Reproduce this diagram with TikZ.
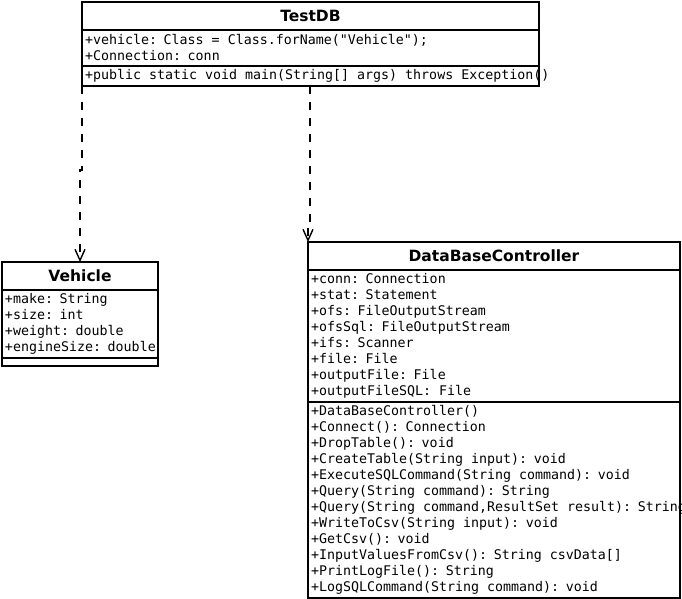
\documentclass[tikz,border=0pt]{standalone}
\usepackage{fontspec}
\setmainfont{DejaVu Sans}
\setmonofont{DejaVu Sans Mono}
\usetikzlibrary{arrows.meta,positioning}

\begin{document}
\begin{tikzpicture}[x=1pt, y=-1pt,
    classname/.style={rectangle, draw, line width=1.3pt, outer sep=0pt, inner sep=0pt, minimum height=28pt, font=\bfseries\fontsize{15.5}{17}\selectfont},
    members/.style={rectangle, draw, line width=1.3pt, outer sep=0pt, inner xsep=3pt, inner ysep=0pt, align=left, font=\ttfamily\fontsize{13.3}{16}\selectfont, execute at begin node={\spaceskip=8pt\relax}},
    dep/.style={line width=1.4pt, dash pattern=on 8pt off 8pt, -{Straight Barb[length=11pt,width=10pt]}}
]
    % Page
    \path[use as bounding box, fill=white] (0,0) rectangle (682,599);

    % TestDB
    \node[classname, anchor=north west, minimum width=457pt] (testdb) at (82,2) {TestDB};
    \node[members, below=0pt of testdb, text width=451pt, minimum height=36pt] (testdbattr) {+vehicle: Class = Class.forName("Vehicle");\\+Connection: conn};
    \node[members, below=0pt of testdbattr, text width=451pt, minimum height=20pt] (testdbops) {\mbox{+public static void main(String[] args) throws Exception()}};

    % Vehicle
    \node[classname, anchor=north west, minimum width=156pt] (vehicle) at (2,262) {Vehicle};
    \node[members, below=0pt of vehicle, text width=150pt, minimum height=68pt] (vehicleattr) {+make: String\\+size: int\\+weight: double\\\mbox{+engineSize: double}};
    \node[members, below=0pt of vehicleattr, text width=150pt, minimum height=8pt] (vehicleops) {};

    % DataBaseController
    \node[classname, anchor=north west, minimum width=372pt] (dbc) at (308,242) {DataBaseController};
    \node[members, below=0pt of dbc, text width=366pt, minimum height=132pt] (dbcattr) {+conn: Connection\\+stat: Statement\\+ofs: FileOutputStream\\+ofsSql: FileOutputStream\\+ifs: Scanner\\+file: File\\+outputFile: File\\+outputFileSQL: File};
    \node[members, below=0pt of dbcattr, text width=366pt, minimum height=196pt] (dbcops) {+DataBaseController()\\+Connect(): Connection\\+DropTable(): void\\+CreateTable(String input): void\\+ExecuteSQLCommand(String command): void\\+Query(String command): String\\\mbox{+Query(String command,ResultSet result): String}\\+WriteToCsv(String input): void\\+GetCsv(): void\\+InputValuesFromCsv(): String csvData[]\\+PrintLogFile(): String\\+LogSQLCommand(String command): void};

    % Dependencies
    \draw[dep] (testdbops.south west) -- ++(0,84) -| (vehicle.north);
    \draw[dep] ([xshift=-0.5pt]testdbops.south) -- ++(0,140) -| (dbc.north west);
\end{tikzpicture}
\end{document}
